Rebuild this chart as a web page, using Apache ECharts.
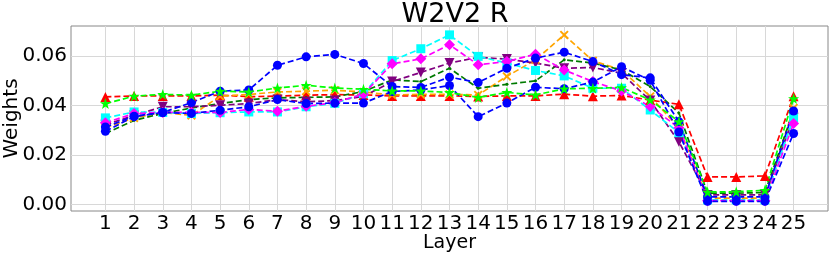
<!DOCTYPE html>
<html>
<head>
<meta charset="utf-8">
<script src="https://cdn.jsdelivr.net/npm/echarts@6/dist/echarts.min.js"></script>
<style>html,body{margin:0;padding:0;background:#fff}#c{width:830px;height:256px}</style>
</head>
<body>
<div id="c"></div>
<script>
const layers = [1,2,3,4,5,6,7,8,9,10,11,12,13,14,15,16,17,18,19,20,21,22,23,24,25];
const yTicks = [0, 0.02, 0.04, 0.06];
const red = [0.0435,0.0439,0.0439,0.0439,0.0442,0.0436,0.0438,0.0442,0.0444,0.0443,0.0439,0.0439,0.0439,0.0437,0.0439,0.0439,0.0446,0.0438,0.0441,0.0422,0.0405,0.0111,0.0111,0.0115,0.0438];
const lime = [0.0408,0.0438,0.0445,0.0442,0.0458,0.0455,0.0471,0.0482,0.0471,0.0466,0.0459,0.0459,0.0453,0.0433,0.0453,0.0443,0.0468,0.047,0.0473,0.0423,0.0335,0.005,0.0051,0.0057,0.0428];
const orange = [0.031,0.035,0.0372,0.036,0.0438,0.0445,0.0455,0.0458,0.0462,0.0455,0.0443,0.0445,0.0445,0.0443,0.0518,0.0585,0.0686,0.0581,0.0544,0.0437,0.031,0.0025,0.0025,0.0025,0.039];
const dgreen = [0.0287,0.034,0.0368,0.039,0.0408,0.0424,0.0431,0.0433,0.0435,0.0457,0.0504,0.0497,0.0551,0.047,0.0486,0.05,0.0585,0.0572,0.0544,0.0477,0.037,0.0045,0.0045,0.0048,0.038];
const purple = [0.0322,0.036,0.0395,0.0395,0.0401,0.0408,0.0424,0.0415,0.042,0.0437,0.0497,0.0534,0.0572,0.0595,0.0588,0.0572,0.0551,0.0554,0.0531,0.042,0.0253,0.0038,0.0038,0.0038,0.0351];
const cyan = [0.035,0.0374,0.0372,0.0368,0.0371,0.0374,0.0374,0.0395,0.0409,0.0448,0.0582,0.063,0.0686,0.0599,0.0572,0.0542,0.052,0.047,0.047,0.0382,0.029,0.0018,0.0018,0.0018,0.035];
const magenta = [0.033,0.0368,0.0372,0.0372,0.0372,0.0384,0.0377,0.0397,0.0412,0.0446,0.0569,0.0589,0.0646,0.0565,0.0578,0.0608,0.0544,0.0497,0.0459,0.0396,0.031,0.0015,0.0015,0.0015,0.0327];
const blueA = [0.0313,0.0357,0.0372,0.0412,0.0458,0.0463,0.0563,0.0597,0.0607,0.057,0.0477,0.0473,0.0515,0.0493,0.0551,0.0592,0.0616,0.0578,0.0525,0.0512,0.0335,0.003,0.003,0.003,0.0378];
const blueB = [0.0296,0.0355,0.0372,0.0368,0.0381,0.0395,0.0424,0.0408,0.041,0.041,0.0457,0.0463,0.0481,0.0355,0.041,0.0474,0.0468,0.0495,0.0557,0.0502,0.0293,0.0012,0.0012,0.0012,0.0287];

const STAR = 'path://M50,0 L61.8,35.1 L98.9,35.1 L69,57.4 L80.3,92.7 L50,71 L19.7,92.7 L31,57.4 L1.1,35.1 L38.2,35.1 Z';
const XMARK = 'path://M0,1.5 L1.5,0 L5,3.5 L8.5,0 L10,1.5 L6.5,5 L10,8.5 L8.5,10 L5,6.5 L1.5,10 L0,8.5 L3.5,5 Z';

function mk(name, data, color, symbol, size, rotate) {
  return {
    name: name, type: 'line',
    data: layers.map((l, i) => [l, data[i]]),
    lineStyle: {color: color, width: 1.7, type: [6, 3]},
    itemStyle: {color: color},
    symbol: symbol, symbolSize: size, symbolRotate: rotate || 0,
    showSymbol: true, animation: false
  };
}

const chart = echarts.init(document.getElementById('c'), null, {renderer: 'canvas'});
chart.setOption({
  animation: false,
  backgroundColor: '#ffffff',
  title: {
    text: 'W2V2 R', left: 450, top: -4, textAlign: 'center',
    textStyle: {fontFamily: 'DejaVu Sans', fontSize: 27, fontWeight: 'normal', color: '#000'}
  },
  grid: {left: 71, right: 2, top: 26, bottom: 45, outerBoundsMode: 'none', containLabel: false,
    show: true, borderColor: '#888', borderWidth: 1},
  xAxis: {
    type: 'value', min: -0.2, max: 26.2,
    name: 'Layer', nameLocation: 'middle', nameGap: 23, nameMoveOverlap: false,
    nameTextStyle: {fontFamily: 'DejaVu Sans', fontSize: 19, color: '#000'},
    axisLine: {show: false},
    axisTick: {show: false, customValues: layers},
    axisLabel: {customValues: layers, fontFamily: 'DejaVu Sans', fontSize: 20, color: '#000', margin: 3},
    splitLine: {show: true, lineStyle: {color: '#d8d8d8', width: 1}}
  },
  yAxis: {
    type: 'value', min: -0.0027, max: 0.0722,
    name: 'Weights', nameLocation: 'middle', nameGap: 49, nameMoveOverlap: false,
    nameTextStyle: {fontFamily: 'DejaVu Sans', fontSize: 20, color: '#000'},
    axisLine: {show: false},
    axisTick: {show: false, customValues: yTicks},
    axisLabel: {customValues: yTicks, fontFamily: 'DejaVu Sans', fontSize: 20, color: '#000', margin: 4,
      formatter: v => v.toFixed(2)},
    splitLine: {show: true, lineStyle: {color: '#d8d8d8', width: 1}}
  },
  series: [
    mk('red', red, '#ff0000', 'triangle', 10),
    mk('orange', orange, '#ffa500', XMARK, 9),
    mk('darkgreen', dgreen, '#007a00', 'circle', 3),
    mk('purple', purple, '#800080', 'triangle', 10, 180),
    mk('cyan', cyan, '#00ffff', 'rect', 9),
    mk('magenta', magenta, '#ff00ff', 'diamond', 11),
    mk('blueA', blueA, '#0000ff', 'circle', 9),
    mk('blueB', blueB, '#0000ff', 'circle', 9),
    mk('lime', lime, '#00ff00', STAR, 11)
  ]
});
</script>
</body>
</html>
